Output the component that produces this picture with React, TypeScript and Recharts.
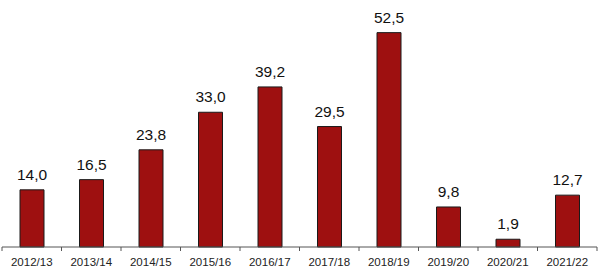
import { BarChart, Bar, XAxis, YAxis, LabelList } from 'recharts';

const SEASONS = [
  '2012/13', '2013/14', '2014/15', '2015/16', '2016/17',
  '2017/18', '2018/19', '2019/20', '2020/21', '2021/22',
];

const VALUES = [14.0, 16.5, 23.8, 33.0, 39.2, 29.5, 52.5, 9.8, 1.9, 12.7];

const WIDTH = 599;
const HEIGHT = 276;
const MARGIN = { top: 2, right: 2, left: 2, bottom: 0 };
const STEP = (WIDTH - MARGIN.left - MARGIN.right) / SEASONS.length;
const FONT = "'Liberation Sans', Arial, sans-serif";

const data = SEASONS.map((season, i) => ({ season, value: VALUES[i] }));

const formatValue = (v: number) => v.toFixed(1).replace('.', ',');

// category label plus tick marks on the boundaries between categories
function SeasonTick(props: any) {
  const { x, payload, index } = props;
  const axisY = 247;
  const left = x - STEP / 2;
  const isLast = index === SEASONS.length - 1;
  return (
    <g>
      <line x1={left} y1={axisY} x2={left} y2={axisY + 4} stroke="#555" />
      {isLast && <line x1={left + STEP} y1={axisY} x2={left + STEP} y2={axisY + 4} stroke="#555" />}
      <text x={x} y={axisY + 19} textAnchor="middle" fontSize={11.5} fill="#222" fontFamily={FONT}>
        {payload.value}
      </text>
    </g>
  );
}

function ValueLabel(props: any) {
  const { x, y, width, value } = props;
  return (
    <text
      x={x + width / 2}
      y={y - 10}
      textAnchor="middle"
      fontSize={15.5}
      fill="#111"
      fontFamily={FONT}
    >
      {formatValue(Number(value))}
    </text>
  );
}

export default function App() {
  return (
    <div style={{ position: 'absolute', left: 0, top: 0, background: '#fff' }}>
      <BarChart width={WIDTH} height={HEIGHT} data={data} margin={MARGIN}>
        <XAxis
          dataKey="season"
          height={29}
          tickLine={false}
          axisLine={{ stroke: '#555' }}
          tick={<SeasonTick />}
          interval={0}
        />
        <YAxis hide domain={[0, 60]} />
        <Bar
          dataKey="value"
          fill="#9E1010"
          stroke="#1a1a1a"
          strokeWidth={1}
          barSize={24}
          isAnimationActive={false}
        >
          <LabelList dataKey="value" content={<ValueLabel />} />
        </Bar>
      </BarChart>
    </div>
  );
}
